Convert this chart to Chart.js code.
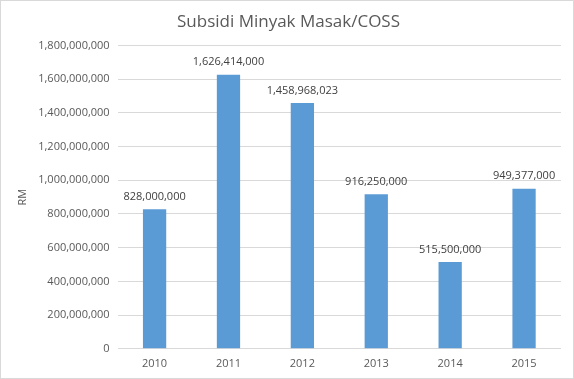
<!DOCTYPE html>
<html>
<head>
<meta charset="utf-8">
<script src="https://cdn.jsdelivr.net/npm/chart.js@4.4.0/dist/chart.umd.min.js"></script>
<style>
  html, body { margin: 0; padding: 0; background: #fff; }
  #wrap { position: relative; width: 572px; height: 377px; border: 1px solid #d9d9d9; }
</style>
</head>
<body>
<div id="wrap"><canvas id="chart"></canvas></div>
<script>
// data
var years = ["2010", "2011", "2012", "2013", "2014", "2015"];
var subsidi = [828000000, 1626414000, 1458968023, 916250000, 515500000, 949377000];
var yMax = 1800000000;
var yStep = 200000000;

var textColor = "#595959";
var fontName = "'Open Sans', 'Noto Sans', sans-serif";

function fmt(v) {
  return Number(v).toLocaleString("en-US");
}

// draw value on top of each bar
var barLabels = {
  id: "barLabels",
  afterDatasetsDraw: function(chart) {
    var ctx = chart.ctx;
    var meta = chart.getDatasetMeta(0);
    ctx.save();
    ctx.font = "11px " + fontName;
    ctx.fillStyle = "#404040";
    ctx.textAlign = "center";
    ctx.textBaseline = "bottom";
    meta.data.forEach(function(bar, i) {
      ctx.fillText(fmt(subsidi[i]), bar.x, bar.y - 7);
    });
    ctx.restore();
  }
};

var ctx = document.getElementById("chart").getContext("2d");
var myChart = new Chart(ctx, {
  type: "bar",
  data: {
    labels: years,
    datasets: [{
      data: subsidi,
      backgroundColor: "#5b9bd5",
      borderWidth: 0,
      categoryPercentage: 1,
      barPercentage: 0.315
    }]
  },
  options: {
    responsive: true,
    maintainAspectRatio: false,
    animation: false,
    layout: { padding: { left: 15, right: 12, top: 7, bottom: 8 } },
    plugins: {
      legend: { display: false },
      tooltip: { enabled: false },
      title: {
        display: true,
        text: "Subsidi Minyak Masak/COSS",
        color: textColor,
        font: { family: fontName, size: 17, weight: "normal" },
        padding: { top: 4, bottom: 13 }
      }
    },
    scales: {
      x: {
        grid: { display: false },
        border: { display: false },
        ticks: { color: textColor, font: { family: fontName, size: 11 }, padding: 0 }
      },
      y: {
        min: 0,
        max: yMax,
        ticks: {
          stepSize: yStep,
          color: textColor,
          font: { family: fontName, size: 11 },
          padding: 8,
          callback: function(v) { return fmt(v); }
        },
        grid: { color: "#d9d9d9", drawTicks: false },
        border: { display: false },
        title: {
          display: true,
          text: "RM",
          color: textColor,
          font: { family: fontName, size: 11 },
          padding: { top: 0, bottom: 1 }
        }
      }
    }
  },
  plugins: [barLabels]
});
</script>
</body>
</html>
